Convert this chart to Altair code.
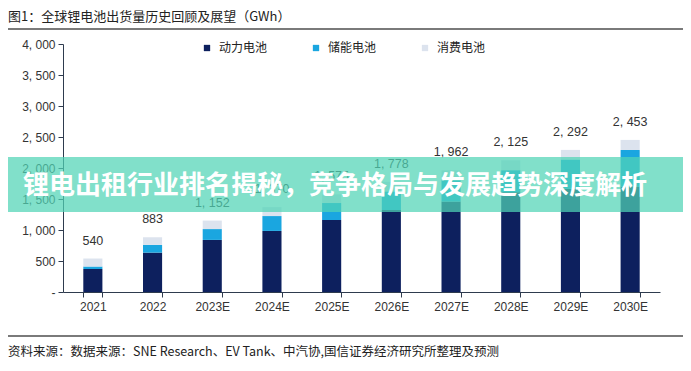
import altair as alt
import pandas as pd

# ---- data ----
years = ["2021", "2022", "2023E", "2024E", "2025E", "2026E", "2027E", "2028E", "2029E", "2030E"]
power = [371, 635, 840, 985, 1161, 1323, 1460, 1610, 1665, 1700]
storage = [40, 125, 175, 240, 274, 300, 342, 355, 472, 590]
consumer = [129, 123, 137, 145, 140, 155, 160, 160, 155, 163]
totals = [540, 883, 1152, 1370, 1575, 1778, 1962, 2125, 2292, 2453]
series_names = ["动力电池", "储能电池", "消费电池"]
series_colors = ["#0D205E", "#1AA6E0", "#DCE3EE"]
y_ticks = [0, 500, 1000, 1500, 2000, 2500, 3000, 3500, 4000]

title_text = "图1：全球锂电池出货量历史回顾及展望（GWh）"
source_text = "资料来源：数据来源：SNE Research、EV Tank、中汽协,国信证券经济研究所整理及预测"
banner_text = "锂电出租行业排名揭秘，竞争格局与发展趋势深度解析"

CJK = "Noto Sans CJK SC"
LAT = "Liberation Sans"

rows = []
for i, yr in enumerate(years):
    for k, (name, vals) in enumerate(zip(series_names, [power, storage, consumer])):
        rows.append({"year": yr, "series": name, "value": vals[i], "order": k})
df = pd.DataFrame(rows)
tot_df = pd.DataFrame({"year": years, "total": totals})
one = pd.DataFrame({"k": [0]})

x_scale = alt.Scale(domain=years, paddingInner=0.68, paddingOuter=0.34)
x_axis = alt.Axis(title=None, labelAngle=0, tickBand="extent", labelFont=LAT, labelFontSize=12,
                  labelColor="#333333", domainColor="#2E3B4E", tickColor="#2E3B4E", tickSize=5,
                  labelPadding=4, grid=False)
y_scale = alt.Scale(domain=[0, 4000], nice=False)
y_axis = alt.Axis(title=None, values=y_ticks, grid=False, labelFont=LAT, labelFontSize=12,
                  labelColor="#333333", domainColor="#2E3B4E", tickColor="#2E3B4E", tickSize=5,
                  labelPadding=3,
                  labelExpr="datum.value == 0 ? '-' : replace(format(datum.value, ','), ',', ', ')")

bars = alt.Chart(df).mark_bar().encode(
    x=alt.X("year:N", sort=years, scale=x_scale, axis=x_axis),
    y=alt.Y("value:Q", stack="zero", scale=y_scale, axis=y_axis),
    color=alt.Color("series:N", scale=alt.Scale(domain=series_names, range=series_colors),
                    sort=series_names, legend=alt.Legend(title=None)),
    order=alt.Order("order:Q"),
)

labels = alt.Chart(tot_df).transform_calculate(
    lab="replace(format(datum.total, ','), ',', ', ')"
).mark_text(font=LAT, fontSize=12.5, color="#333333", baseline="middle", dy=-18).encode(
    x=alt.X("year:N", sort=years, scale=x_scale, axis=x_axis),
    y=alt.Y("total:Q", scale=y_scale, axis=y_axis),
    text="lab:N",
)

banner = alt.Chart(one).mark_rect(color="#50D4B5", opacity=0.72).encode(
    x=alt.value(-55), x2=alt.value(620), y=alt.value(113), y2=alt.value(168)
)
banner_t = alt.Chart(one).mark_text(text=banner_text, font=CJK, fontSize=26, fontWeight="bold",
                                    color="white", align="center", baseline="middle").encode(
    x=alt.value(272), y=alt.value(142)
)
title_t = alt.Chart(one).mark_text(text=title_text, font=CJK, fontSize=13, color="#222222",
                                   align="left", baseline="middle").encode(
    x=alt.value(-55), y=alt.value(-27)
)
top_line = alt.Chart(one).mark_rule(color="#7A7A7A", strokeWidth=2).encode(
    x=alt.value(-55), x2=alt.value(620), y=alt.value(-15)
)
bot_line = alt.Chart(one).mark_rule(color="#7A7A7A", strokeWidth=2).encode(
    x=alt.value(-55), x2=alt.value(620), y=alt.value(292)
)
source_t = alt.Chart(one).mark_text(text=source_text, font=CJK, fontSize=12.5, color="#222222",
                                    align="left", baseline="middle").encode(
    x=alt.value(-55), y=alt.value(308)
)

chart = alt.layer(bars, labels, banner, banner_t, title_t, top_line, bot_line, source_t).properties(
    width=597, height=248,
    autosize=alt.AutoSizeParams(type="none"),
    padding={"left": 55, "top": 36, "right": 23, "bottom": 72},
).configure_view(strokeWidth=0).configure_legend(
    orient="none", legendX=138, legendY=-2, direction="horizontal", symbolType="square",
    symbolSize=40, labelFont=CJK, labelFontSize=12, labelColor="#222222", columnPadding=42,
    labelOffset=6, padding=0
)

chart.save("out.html", embed_options={"renderer": "svg", "actions": False})
